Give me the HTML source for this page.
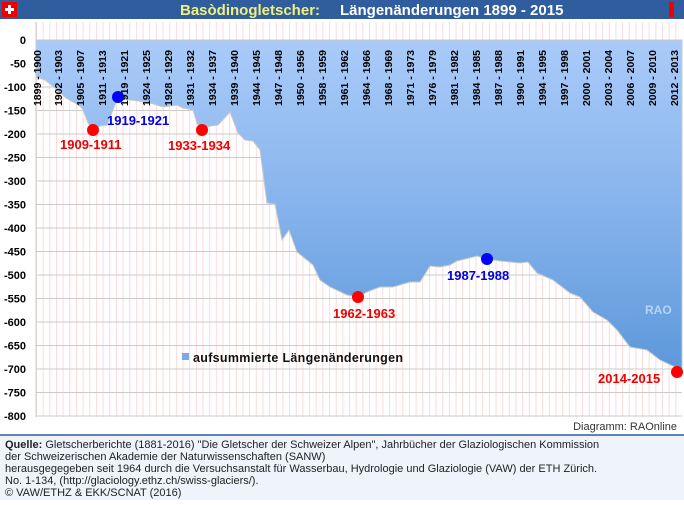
<!DOCTYPE html>
<html><head><meta charset="utf-8"><style>
body{margin:0;width:684px;height:500px;overflow:hidden;background:#fff;font-family:"Liberation Sans",sans-serif}
</style></head><body>
<svg width="684" height="500" xmlns="http://www.w3.org/2000/svg" font-family="Liberation Sans, sans-serif">
<defs>
<linearGradient id="g" gradientUnits="userSpaceOnUse" x1="0" y1="40" x2="0" y2="372">
<stop offset="0" stop-color="#aacbf9"/><stop offset="0.5" stop-color="#86b3ec"/><stop offset="1" stop-color="#5c98da"/></linearGradient>
<pattern id="vp" x="36" y="0" width="6.66" height="10" patternUnits="userSpaceOnUse"><line x1="0.5" y1="0" x2="0.5" y2="10" stroke="#fbdada" stroke-width="1"/></pattern>
</defs>
<rect x="0" y="0" width="684" height="19" fill="#2f5d9d"/>
<rect x="2" y="2" width="15" height="15" fill="#e00"/>
<rect x="8" y="5" width="3" height="9" fill="#fff"/><rect x="5" y="8" width="9" height="3" fill="#fff"/>
<rect x="669" y="2" width="5" height="15" fill="#e00"/>
<text x="180" y="15" font-size="15" font-weight="bold" fill="#f0f080">Basòdinogletscher:</text>
<text x="340" y="15" font-size="15" font-weight="bold" fill="#fff">Längenänderungen 1899 - 2015</text>
<rect x="36" y="22" width="646" height="395" fill="url(#vp)"/>
<g stroke="#cfcaca" stroke-width="1">
<line x1="36" y1="63.5" x2="682" y2="63.5"/><line x1="36" y1="87" x2="682" y2="87"/><line x1="36" y1="110.5" x2="682" y2="110.5"/><line x1="36" y1="134" x2="682" y2="134"/><line x1="36" y1="157.5" x2="682" y2="157.5"/><line x1="36" y1="181" x2="682" y2="181"/><line x1="36" y1="204.5" x2="682" y2="204.5"/><line x1="36" y1="228" x2="682" y2="228"/><line x1="36" y1="251.5" x2="682" y2="251.5"/><line x1="36" y1="275" x2="682" y2="275"/><line x1="36" y1="298.5" x2="682" y2="298.5"/><line x1="36" y1="322" x2="682" y2="322"/><line x1="36" y1="345.5" x2="682" y2="345.5"/><line x1="36" y1="369" x2="682" y2="369"/><line x1="36" y1="392.5" x2="682" y2="392.5"/><line x1="36" y1="416" x2="682" y2="416"/>
<line x1="36" y1="22" x2="36" y2="417"/>
</g>
<path d="M36,40 L36,77 L45,80 L55,88 L66,98 L80,106 L83,110 L88,123 L93,130 L100,126 L107,125 L113,110 L118,97 L125,99 L130,100 L147,102 L163,107 L177,105 L183,108 L193,110 L197,123 L202,130 L210,126 L218,125 L230,112 L238,133 L245,140 L253,141 L260,150 L267,203 L275,204 L282,240 L289,230 L297,252 L307,260 L313,265 L320,280 L330,287 L347,295 L358,297 L367,292 L380,287 L393,287 L410,282 L420,282 L430,266 L440,267 L450,265 L457,261 L477,256 L487,259 L500,261 L520,263 L528,262 L537,273 L553,280 L570,293 L580,297 L593,312 L607,320 L617,330 L630,347 L647,350 L660,360 L677,368 L682,370 L682,40 Z" fill="url(#g)" stroke="#c8c8c8" stroke-width="1"/>
<g font-size="11" font-weight="bold" fill="#000" text-anchor="end">
<text x="26" y="44">0</text><text x="26" y="67.5">-50</text><text x="26" y="91">-100</text><text x="26" y="114.5">-150</text><text x="26" y="138">-200</text><text x="26" y="161.5">-250</text><text x="26" y="185">-300</text><text x="26" y="208.5">-350</text><text x="26" y="232">-400</text><text x="26" y="255.5">-450</text><text x="26" y="279">-500</text><text x="26" y="302.5">-550</text><text x="26" y="326">-600</text><text x="26" y="349.5">-650</text><text x="26" y="373">-700</text><text x="26" y="396.5">-750</text><text x="26" y="420">-800</text>
</g>
<g font-size="10.5" font-weight="bold" fill="#000" text-anchor="middle">
<text transform="translate(41,78) rotate(-90)">1899 - 1900</text>
<text transform="translate(62,78) rotate(-90)">1902 - 1903</text>
<text transform="translate(84,78) rotate(-90)">1905 - 1907</text>
<text transform="translate(106,78) rotate(-90)">1911 - 1913</text>
<text transform="translate(128,78) rotate(-90)">1919 - 1921</text>
<text transform="translate(150,78) rotate(-90)">1924 - 1925</text>
<text transform="translate(172,78) rotate(-90)">1928 - 1929</text>
<text transform="translate(194,78) rotate(-90)">1931 - 1932</text>
<text transform="translate(216,78) rotate(-90)">1934 - 1937</text>
<text transform="translate(238,78) rotate(-90)">1939 - 1940</text>
<text transform="translate(260,78) rotate(-90)">1944 - 1945</text>
<text transform="translate(282,78) rotate(-90)">1947 - 1948</text>
<text transform="translate(304,78) rotate(-90)">1950 - 1956</text>
<text transform="translate(326,78) rotate(-90)">1958 - 1959</text>
<text transform="translate(348,78) rotate(-90)">1961 - 1962</text>
<text transform="translate(370,78) rotate(-90)">1964 - 1966</text>
<text transform="translate(392,78) rotate(-90)">1968 - 1969</text>
<text transform="translate(414,78) rotate(-90)">1971 - 1973</text>
<text transform="translate(436,78) rotate(-90)">1976 - 1979</text>
<text transform="translate(458,78) rotate(-90)">1981 - 1982</text>
<text transform="translate(480,78) rotate(-90)">1984 - 1985</text>
<text transform="translate(502,78) rotate(-90)">1987 - 1988</text>
<text transform="translate(524,78) rotate(-90)">1990 - 1991</text>
<text transform="translate(546,78) rotate(-90)">1994 - 1995</text>
<text transform="translate(568,78) rotate(-90)">1997 - 1998</text>
<text transform="translate(590,78) rotate(-90)">2000 - 2001</text>
<text transform="translate(612,78) rotate(-90)">2003 - 2004</text>
<text transform="translate(634,78) rotate(-90)">2006 - 2007</text>
<text transform="translate(656,78) rotate(-90)">2009 - 2010</text>
<text transform="translate(678,78) rotate(-90)">2012 - 2013</text>
</g>
<g font-size="13" font-weight="bold">
<circle cx="93" cy="130" r="6" fill="#f00"/><text x="60" y="149" fill="#e00">1909-1911</text>
<circle cx="118" cy="97" r="6" fill="#00f"/><text x="107" y="125" fill="#00d">1919-1921</text>
<circle cx="202" cy="130" r="6" fill="#f00"/><text x="168" y="150" fill="#e00">1933-1934</text>
<circle cx="358" cy="297" r="6" fill="#f00"/><text x="333" y="318" fill="#e00">1962-1963</text>
<circle cx="487" cy="259" r="6" fill="#00f"/><text x="447" y="280" fill="#00d">1987-1988</text>
<circle cx="677" cy="372" r="6" fill="#f00"/><text x="598" y="383" fill="#e00">2014-2015</text>
</g>
<text x="645" y="314" font-size="12" font-weight="bold" fill="#b8d2f2">RAO</text>
<rect x="182" y="353" width="7" height="7" fill="#7aa8e8"/>
<text x="193" y="362" font-size="12.5" font-weight="bold" fill="#111" textLength="210">aufsummierte Längenänderungen</text>
<text x="677" y="430" font-size="11" fill="#333" text-anchor="end">Diagramm: RAOnline</text>
<rect x="0" y="435" width="684" height="65" fill="#eef3fc"/>
<line x1="0" y1="435" x2="684" y2="435" stroke="#2f5d9d" stroke-width="1.5"/>
<g font-size="11" fill="#222">
<text x="5" y="448"><tspan font-weight="bold">Quelle:</tspan> Gletscherberichte (1881-2016) "Die Gletscher der Schweizer Alpen", Jahrbücher der Glaziologischen Kommission</text>
<text x="5" y="460">der Schweizerischen Akademie der Naturwissenschaften (SANW)</text>
<text x="5" y="472">herausgegegeben seit 1964 durch die Versuchsanstalt für Wasserbau, Hydrologie und Glaziologie (VAW) der ETH Zürich.</text>
<text x="5" y="484">No. 1-134, (http://glaciology.ethz.ch/swiss-glaciers/).</text>
<text x="5" y="496">© VAW/ETHZ &amp; EKK/SCNAT (2016)</text>
</g>
</svg>
</body></html>
